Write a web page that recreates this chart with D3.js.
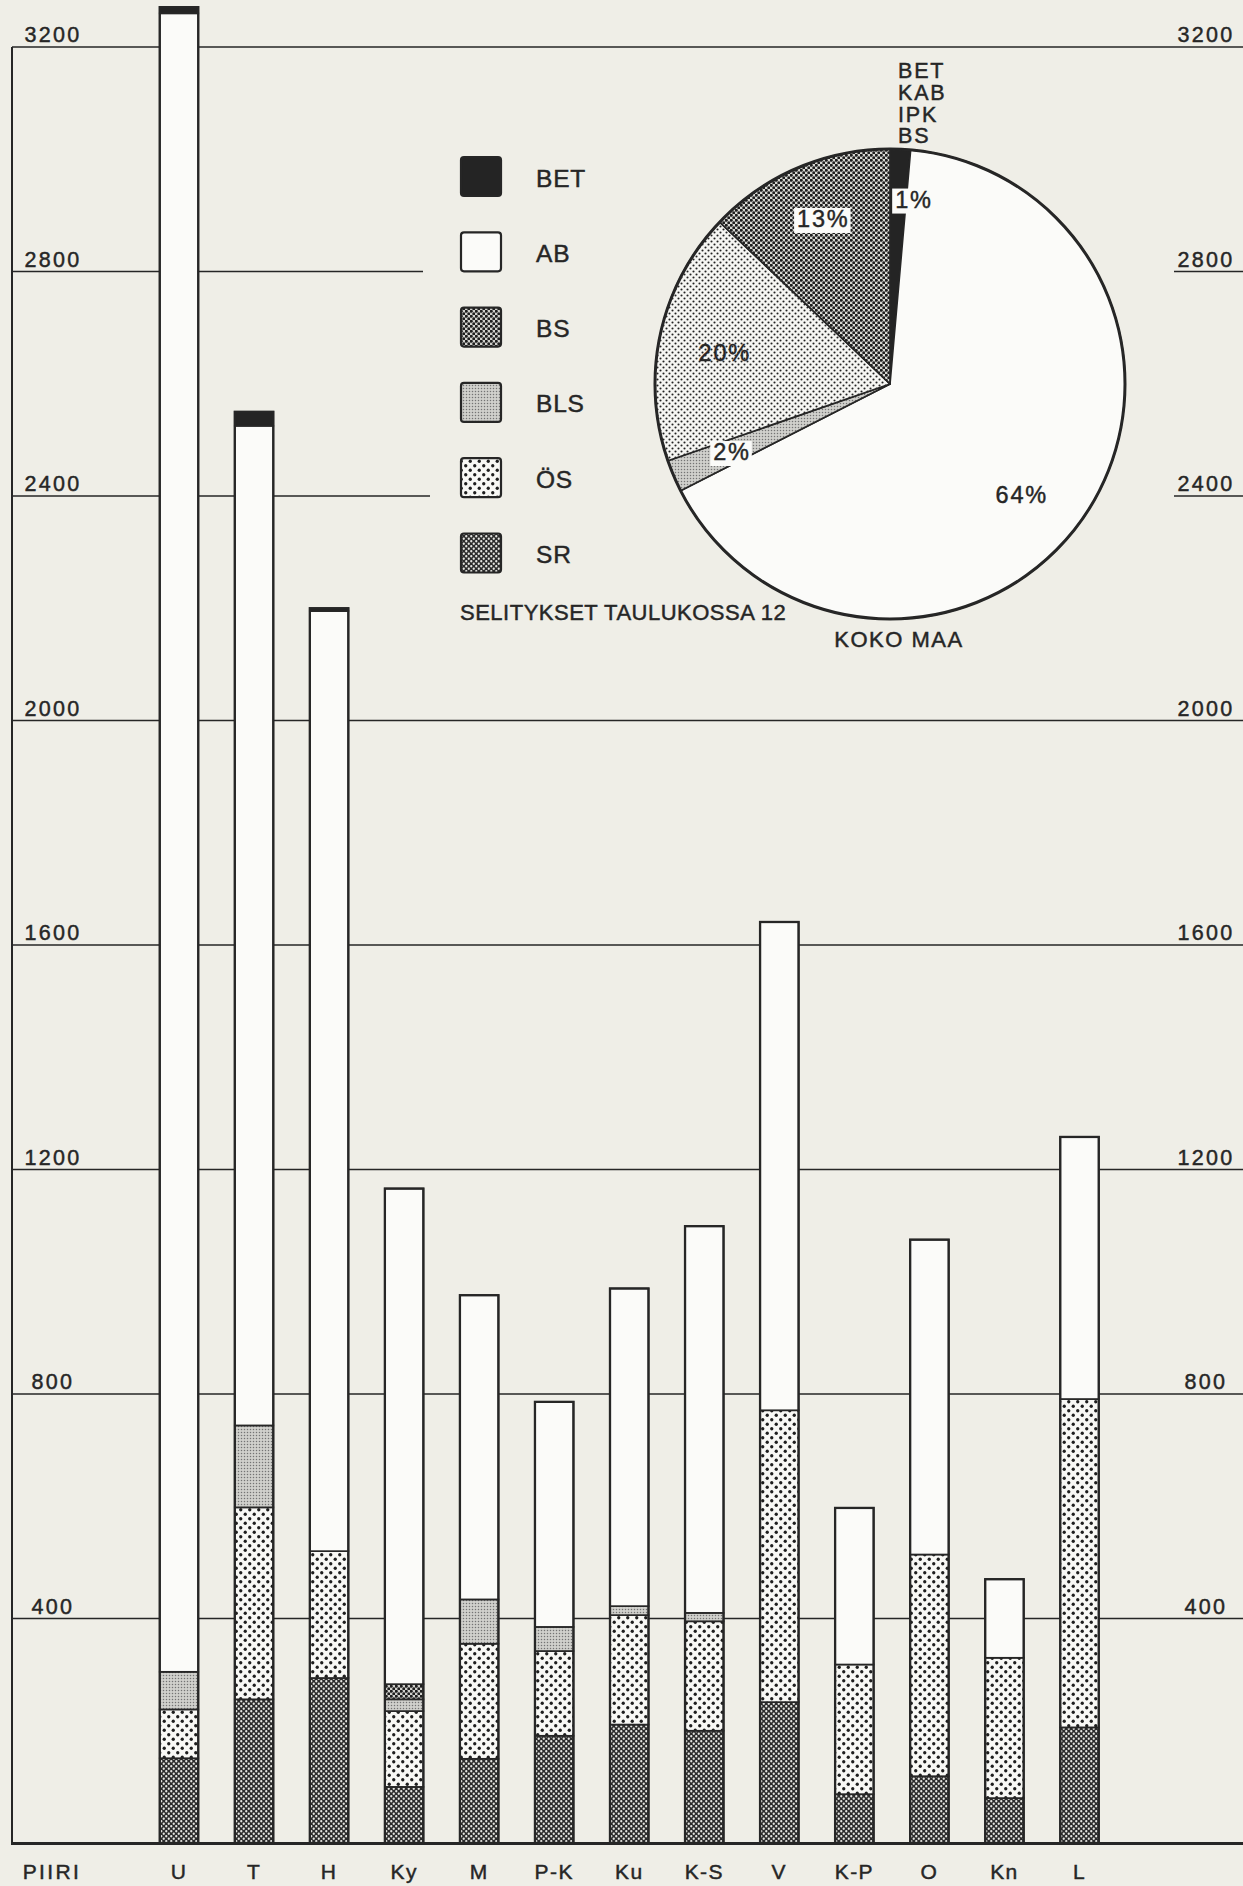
<!DOCTYPE html>
<html><head><meta charset="utf-8">
<script src="https://cdn.jsdelivr.net/npm/d3@7"></script>
<style>html,body{margin:0;padding:0;background:#efeee7;} svg{display:block}
text{paint-order:stroke;}</style>
</head><body><svg id="c" width="1243" height="1886"></svg>
<script>
// ---------- DATA ----------
const categories = ["U","T","H","Ky","M","P-K","Ku","K-S","V","K-P","O","Kn","L"];
const seriesKeys = ["SR","ÖS","BLS","BS","AB","BET"];          // stacking order, bottom -> top
const SR  = [151,256,294,100,150,191,211,200,251, 87,119, 80,206];
const OS  = [ 87,342,226,135,205,151,195,195,520,231,395,250,585];
const BLS = [ 67,146,  0, 21, 79, 43, 16, 15,  0,  0,  0,  0,  0];
const BS  = [  0,  0,  0, 27,  0,  0,  0,  0,  0,  0,  0,  0,  0];
const AB  = [2955,1781,1675,883,542,401,566,689,870,279,561,140,467];
const BET = [ 11, 25,  5,  0,  0,  0,  0,  0,  0,  0,  0,  0,  0];
const yTicks = [400,800,1200,1600,2000,2400,2800,3200];
const legendKeys = ["BET","AB","BS","BLS","ÖS","SR"];
const pieKeys   = ["BET","AB","BLS","ÖS","SR"];
const pieShares = [1.4,66.1,2.2,17.4,12.9];
const pieLabels = ["1%","64%","2%","20%","13%"];
const pieTopLabel = ["BET","KAB","IPK","BS"];
const axisTitle = "PIIRI";
const noteText = "SELITYKSET TAULUKOSSA 12";
const pieTitle = "KOKO MAA";

// ---------- SETUP ----------
const W = 1243, H = 1886;
const svg = d3.select("#c");
const FONT = "'Liberation Sans', Arial, sans-serif";
const INK = "#262626";
const PAPER = "#efeee7";
const WHITE = "#fbfbf9";
const TS = 0.45; // text stroke to mimic heavier print

svg.append("rect").attr("width",W).attr("height",H).attr("fill",PAPER);

// patterns
const defs = svg.append("defs");
function dotPattern(id, size, bg, fg, r, pts){
  const p = defs.append("pattern").attr("id",id).attr("patternUnits","userSpaceOnUse")
    .attr("width",size).attr("height",size);
  p.append("rect").attr("width",size).attr("height",size).attr("fill",bg);
  pts.forEach(([x,y])=>p.append("circle").attr("cx",x).attr("cy",y).attr("r",r).attr("fill",fg));
}
dotPattern("pSR", 5, "#2b2b2b", "#e6e6e2", 1.15, [[1.25,1.25],[3.75,3.75]]);
dotPattern("pBS", 5, "#d0d0cc", "#1e1e1e", 1.5, [[1.25,1.25],[3.75,3.75]]);
dotPattern("pOS", 9, "#f8f8f5", "#1e1e1e", 1.65, [[2.25,2.25],[6.75,6.75]]);
dotPattern("pBLS", 3, "#d0d0cc", "#747474", 0.75, [[1.5,1.5]]);
dotPattern("pSRpie", 5, "#d6d6d2", "#1e1e1e", 1.5, [[1.25,1.25],[3.75,3.75]]);
dotPattern("pOSpie", 6, "#f6f6f3", "#222", 1.05, [[1.5,1.5],[4.5,4.5]]);

const fills = {BET:"#242424", AB:WHITE, BS:"url(#pBS)", BLS:"url(#pBLS)", "ÖS":"url(#pOS)", SR:"url(#pSR)"};
const pieFills = {BET:"#242424", AB:WHITE, BLS:"url(#pBLS)", "ÖS":"url(#pOSpie)", SR:"url(#pSRpie)"};

// scales
const y = d3.scaleLinear().domain([0,3200]).range([1843,47]);
const x = d3.scalePoint().domain(categories).range([179,1079.5]);
const barW = 38.5;
const axisLeft = 12;

function styleText(sel, size, ls){
  return sel.attr("font-family",FONT).attr("font-size",size).attr("fill",INK)
    .attr("stroke",INK).attr("stroke-width",TS).attr("letter-spacing",ls);
}

// ---------- GRID ----------
const gridSegs = {2800:[[axisLeft,423],[1174,W]], 2400:[[axisLeft,430],[1174,W]]};
const grid = svg.append("g");
yTicks.forEach(t=>{
  const segs = gridSegs[t] || [[axisLeft,W]];
  segs.forEach(([a,b])=>grid.append("line").attr("x1",a).attr("x2",b)
    .attr("y1",y(t)).attr("y2",y(t)).attr("stroke",INK).attr("stroke-width",1.7));
});
svg.append("line").attr("x1",axisLeft).attr("x2",axisLeft).attr("y1",y(3200)).attr("y2",y(0))
  .attr("stroke",INK).attr("stroke-width",2);

// tick labels
const tl = styleText(svg.append("g"),21.5,2.3).attr("text-anchor","middle");
yTicks.forEach(t=>{
  tl.append("text").attr("x",53).attr("y",y(t)-5).text(t);
  tl.append("text").attr("x",1206).attr("y",y(t)-5).text(t);
});

// ---------- BARS ----------
const table = categories.map((c,i)=>({cat:c, SR:SR[i], "ÖS":OS[i], BLS:BLS[i], BS:BS[i], AB:AB[i], BET:BET[i]}));
const stack = d3.stack().keys(seriesKeys)(table);
const bars = svg.append("g");
stack.forEach(layer=>{
  bars.selectAll(null).data(layer.filter(d=>d[1]-d[0]>0)).join("rect")
    .attr("x",d=>x(d.data.cat)-barW/2).attr("width",barW)
    .attr("y",d=>y(d[1])).attr("height",d=>y(d[0])-y(d[1]))
    .attr("fill",fills[layer.key]).attr("stroke",INK).attr("stroke-width",1.7);
});
const total = d=>seriesKeys.reduce((s,k)=>s+d[k],0);
bars.selectAll(null).data(table).join("rect")
  .attr("x",d=>x(d.cat)-barW/2).attr("width",barW)
  .attr("y",d=>y(total(d))).attr("height",d=>y(0)-y(total(d)))
  .attr("fill","none").attr("stroke",INK).attr("stroke-width",2.3);

svg.append("line").attr("x1",axisLeft-1).attr("x2",W).attr("y1",y(0)+0.5).attr("y2",y(0)+0.5)
  .attr("stroke",INK).attr("stroke-width",3);

// category labels
const cl = styleText(svg.append("g"),21,1.4).attr("text-anchor","middle");
categories.forEach(c=>cl.append("text").attr("x",x(c)).attr("y",1879).text(c));
cl.append("text").attr("x",52).attr("y",1879).attr("letter-spacing",2.4).text(axisTitle);

// ---------- LEGEND ----------
const lg = svg.append("g");
legendKeys.forEach((k,i)=>{
  const top = 157 + i*75.3;
  lg.append("rect").attr("x",461).attr("y",top).attr("width",40).attr("height",39).attr("rx",3)
    .attr("fill",fills[k]).attr("stroke",INK).attr("stroke-width",2.2);
  styleText(lg.append("text"),24.5,0.8).attr("x",536).attr("y",top+29.5).text(k);
});
styleText(lg.append("text"),22,0.5).attr("x",460).attr("y",620).text(noteText);

// ---------- PIE ----------
const cx = 890, cy = 384, R = 235;
const pg = svg.append("g").attr("transform",`translate(${cx},${cy})`);
const arcs = d3.pie().sort(null).value(d=>d)(pieShares);
const arcGen = d3.arc().innerRadius(0).outerRadius(R);
pg.selectAll(null).data(arcs).join("path").attr("d",arcGen)
  .attr("fill",(d,i)=>pieFills[pieKeys[i]]).attr("stroke",INK).attr("stroke-width",1.7)
  .attr("stroke-linejoin","round");
pg.append("circle").attr("r",R).attr("fill","none").attr("stroke",INK).attr("stroke-width",3);

// pie labels (polar placement: angle in degrees clockwise from north, radius)
const labelPolar = [[7.4,186],[130,172],[246.7,172],[280.5,168],[338,178]];
const labelBox = [true,false,true,false,true];
const lblG = styleText(pg.append("g"),23.5,1.8).attr("text-anchor","middle");
pieLabels.forEach((t,i)=>{
  const a = labelPolar[i][0]*Math.PI/180, r = labelPolar[i][1];
  const tx = Math.sin(a)*r, ty = -Math.cos(a)*r;
  const g = lblG.append("g");
  const txt = g.append("text").attr("x",tx).attr("y",ty+8).text(t);
  if(labelBox[i]){
    const b = txt.node().getBBox();
    g.insert("rect","text").attr("x",b.x-3).attr("y",b.y+2).attr("width",b.width+4).attr("height",b.height-1)
      .attr("fill",WHITE).attr("stroke","none");
  }
});

const tg = styleText(svg.append("g"),21.5,1.8);
pieTopLabel.forEach((t,i)=>tg.append("text").attr("x",898).attr("y",78+i*21.8).text(t));

styleText(svg.append("text"),22,1.5).attr("x",899).attr("y",647).attr("text-anchor","middle").text(pieTitle);
</script></body></html>
